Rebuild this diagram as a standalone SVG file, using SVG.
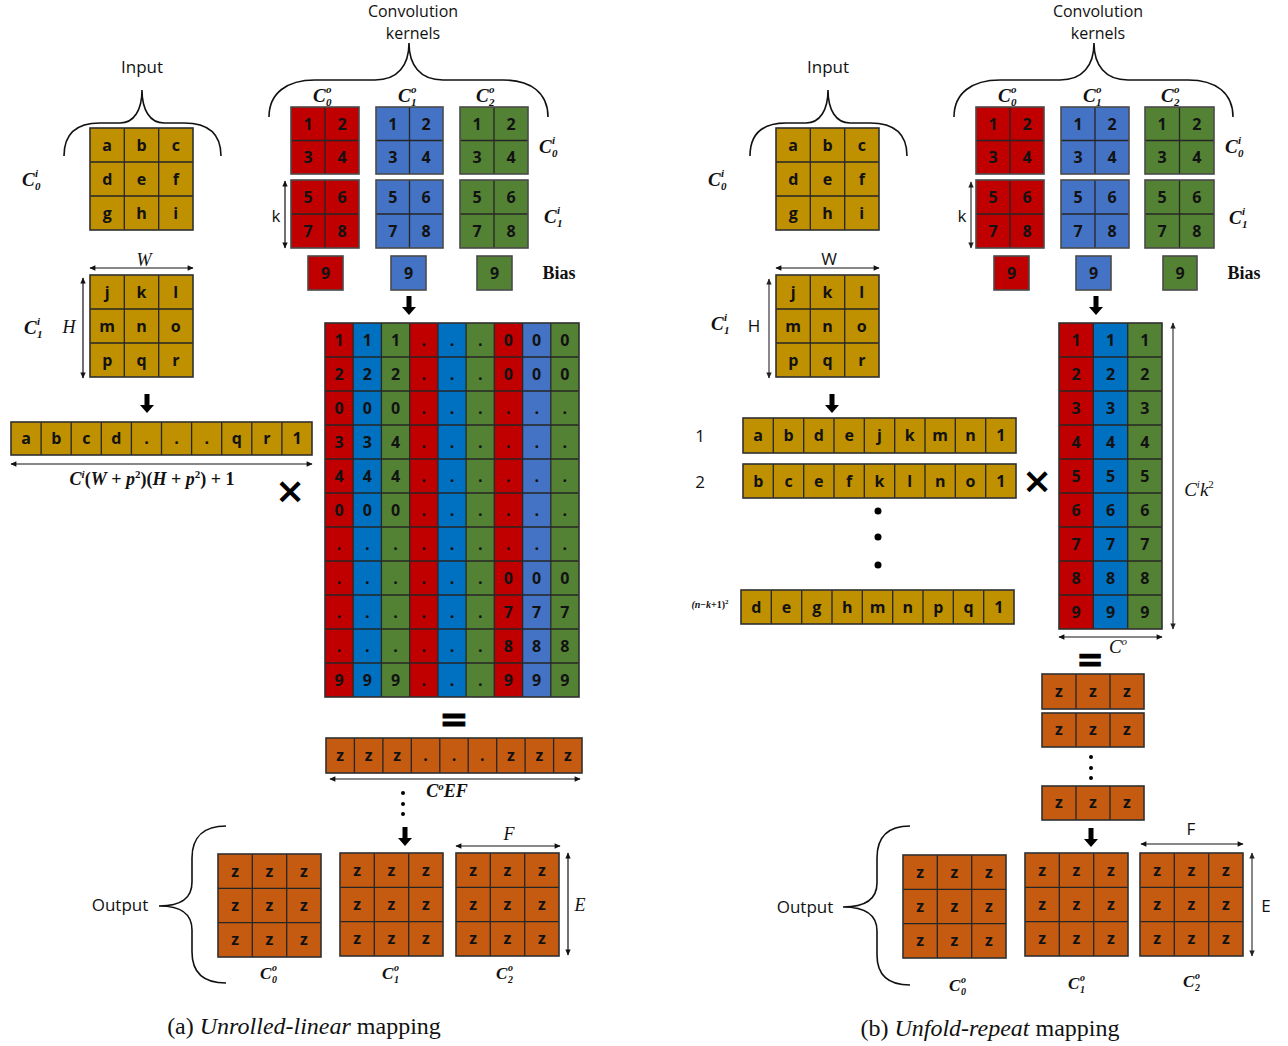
<svg xmlns="http://www.w3.org/2000/svg" width="1288" height="1046" viewBox="0 0 1288 1046">
<defs>
<style>
.gold{fill:#BF9000}
.red{fill:#C00000}
.blu{fill:#4472C4}
.blu2{fill:#0070C0}
.grn{fill:#548235}
.org{fill:#C55A11}
.gl{fill:none;stroke:#262626;stroke-width:1.3}
.ob{fill:none;stroke:#303030;stroke-width:1.6}
.kb{fill:none;stroke:#4a4a4a;stroke-width:1.6}
.ct{font-family:"Open Sans","DejaVu Sans",sans-serif;font-weight:700;font-size:16px;text-anchor:middle;fill:#121212}
.lb{font-family:"Open Sans","DejaVu Sans",sans-serif;font-size:17px;text-anchor:middle;fill:#111}
.mc{font-family:"Liberation Serif","DejaVu Serif",serif;font-weight:700;font-style:italic;font-size:19px;fill:#111}
.mo{font-family:"Liberation Serif","DejaVu Serif",serif;font-weight:700;font-style:italic;font-size:17px;fill:#111}
.ms{font-size:11px}
.mss{font-size:10px}
.mf{font-family:"Liberation Serif","DejaVu Serif",serif;font-weight:700;font-style:italic;font-size:18px;fill:#111;white-space:pre}
.mr{font-family:"Liberation Serif","DejaVu Serif",serif;font-style:italic;font-size:19px;fill:#111}
.n{font-style:normal}
.sp{font-size:11px}
.mi{font-family:"Liberation Serif","DejaVu Serif",serif;font-style:italic;font-size:18px;text-anchor:middle;fill:#111}
.bias{font-family:"Liberation Serif","DejaVu Serif",serif;font-weight:700;font-size:18px;text-anchor:middle;fill:#111}
.cap{font-family:"Liberation Serif","Times New Roman",serif;font-size:24px;text-anchor:middle;fill:#111}
.brace{fill:none;stroke:#111;stroke-width:1.6}
.dim{stroke:#111;stroke-width:1.2;fill:none;marker-start:url(#ah);marker-end:url(#ah)}
.dimg{stroke:#555;stroke-width:1.4;fill:none;marker-start:url(#ahg);marker-end:url(#ahg)}
.op{font-family:"DejaVu Sans",sans-serif;font-weight:700;text-anchor:middle;fill:#000}
.dot{fill:#000}
</style>
<marker id="ah" viewBox="0 0 10 10" refX="9" refY="5" markerWidth="7" markerHeight="6" orient="auto-start-reverse" markerUnits="userSpaceOnUse"><path d="M0,0.5 L10,5 L0,9.5 z" fill="#111"/></marker>
<marker id="ahg" viewBox="0 0 10 10" refX="9" refY="5" markerWidth="7" markerHeight="6" orient="auto-start-reverse" markerUnits="userSpaceOnUse"><path d="M0,0.5 L10,5 L0,9.5 z" fill="#222"/></marker>
<path id="dn" d="M-2.5,0 H2.5 V11 H7 L0,19 L-7,11 H-2.5 Z" fill="#000"/>
</defs>
<rect width="1288" height="1046" fill="#fff"/>

<!-- ================= LEFT PANEL (a) ================= -->
<g id="a-input-label">
<text class="lb" x="142" y="73">Input</text>
<path class="brace" d="M64,156 C64,132 78,123 100,123 L120,123 C134,123 142,110 142,90 C142,110 150,123 164,123 L184,123 C206,123 221,132 221,156"/>
</g>
<g id="a-input-c0">
<rect class="gold" x="90" y="128" width="103" height="102"/>
<path class="gl" d="M124.3,128V230M158.7,128V230M90,162H193M90,196H193"/>
<rect class="ob" x="90" y="128" width="103" height="102"/>
<text class="ct" x="107.2" y="150.5">a</text><text class="ct" x="141.5" y="150.5">b</text><text class="ct" x="175.8" y="150.5">c</text>
<text class="ct" x="107.2" y="184.5">d</text><text class="ct" x="141.5" y="184.5">e</text><text class="ct" x="175.8" y="184.5">f</text>
<text class="ct" x="107.2" y="218.5">g</text><text class="ct" x="141.5" y="218.5">h</text><text class="ct" x="175.8" y="218.5">i</text>
<text class="mc"><tspan x="22" y="186">C</tspan><tspan class="ms" x="35" y="177">i</tspan><tspan class="ms" x="35" y="190">0</tspan></text>
</g>
<g id="a-input-c1">
<rect class="gold" x="90" y="275" width="103" height="102"/>
<path class="gl" d="M124.3,275V377M158.7,275V377M90,309H193M90,343H193"/>
<rect class="ob" x="90" y="275" width="103" height="102"/>
<text class="ct" x="107.2" y="297.5">j</text><text class="ct" x="141.5" y="297.5">k</text><text class="ct" x="175.8" y="297.5">l</text>
<text class="ct" x="107.2" y="331.5">m</text><text class="ct" x="141.5" y="331.5">n</text><text class="ct" x="175.8" y="331.5">o</text>
<text class="ct" x="107.2" y="365.5">p</text><text class="ct" x="141.5" y="365.5">q</text><text class="ct" x="175.8" y="365.5">r</text>
<text class="mc"><tspan x="24" y="334">C</tspan><tspan class="ms" x="37" y="325">i</tspan><tspan class="ms" x="37" y="338">1</tspan></text>
<text class="mi" x="144" y="266">W</text>
<text class="mi" x="69" y="333">H</text>
</g>
<g id="a-input-row">
<rect class="gold" x="11" y="422" width="301" height="33"/>
<path class="gl" d="M41.1,422V455M71.2,422V455M101.3,422V455M131.4,422V455M161.5,422V455M191.6,422V455M221.7,422V455M251.8,422V455M281.9,422V455"/>
<rect class="ob" x="11" y="422" width="301" height="33"/>
<text class="ct" x="26" y="444">a</text><text class="ct" x="56.2" y="444">b</text><text class="ct" x="86.3" y="444">c</text><text class="ct" x="116.4" y="444">d</text><text class="ct" x="146.5" y="444">.</text><text class="ct" x="176.6" y="444">.</text><text class="ct" x="206.7" y="444">.</text><text class="ct" x="236.8" y="444">q</text><text class="ct" x="266.9" y="444">r</text><text class="ct" x="297" y="444">1</text>
<text class="mf" x="152" y="485" text-anchor="middle">C<tspan class="sp" dy="-7">i</tspan><tspan class="n" dy="7">(</tspan>W<tspan class="n"> + </tspan>p<tspan class="sp n" dy="-7">2</tspan><tspan class="n" dy="7">)(</tspan>H<tspan class="n"> + </tspan>p<tspan class="sp n" dy="-7">2</tspan><tspan class="n" dy="7">) + 1</tspan></text>
</g>
<g id="a-kernels-label">
<text class="lb" x="413" y="17" style="font-size:16px">Convolution</text>
<text class="lb" x="413" y="39" style="font-size:16px">kernels</text>
<path class="brace" d="M269,117 C269,93 287,80 315,80 L375,80 C398,80 409,65 409,43 C409,65 420,80 443,80 L503,80 C531,80 548,93 548,117"/>
<text class="mc"><tspan x="313" y="102">C</tspan><tspan class="ms" x="326" y="93">o</tspan><tspan class="ms" x="326" y="106">0</tspan></text>
<text class="mc"><tspan x="398" y="102">C</tspan><tspan class="ms" x="411" y="93">o</tspan><tspan class="ms" x="411" y="106">1</tspan></text>
<text class="mc"><tspan x="476" y="102">C</tspan><tspan class="ms" x="489" y="93">o</tspan><tspan class="ms" x="489" y="106">2</tspan></text>
<text class="mc"><tspan x="539" y="153">C</tspan><tspan class="ms" x="552" y="144">i</tspan><tspan class="ms" x="552" y="157">0</tspan></text>
<text class="mc"><tspan x="544" y="223">C</tspan><tspan class="ms" x="557" y="214">i</tspan><tspan class="ms" x="557" y="227">1</tspan></text>
<text class="bias" x="559" y="279">Bias</text>
<text class="lb" x="276" y="222">k</text>
</g>
<g id="a-kernel-c0">
<rect class="red" x="291" y="107" width="68" height="67"/><path class="gl" d="M325,107V174M291,140.5H359"/><rect class="kb" x="291" y="107" width="68" height="67"/>
<text class="ct" x="308" y="129.8">1</text><text class="ct" x="342" y="129.8">2</text><text class="ct" x="308" y="163.3">3</text><text class="ct" x="342" y="163.3">4</text>
<rect class="red" x="291" y="180" width="68" height="68"/><path class="gl" d="M325,180V248M291,214H359"/><rect class="kb" x="291" y="180" width="68" height="68"/>
<text class="ct" x="308" y="203">5</text><text class="ct" x="342" y="203">6</text><text class="ct" x="308" y="237">7</text><text class="ct" x="342" y="237">8</text>
<rect class="red" x="308" y="256" width="35" height="34"/><rect class="kb" x="308" y="256" width="35" height="34"/><text class="ct" x="325.5" y="279">9</text>
</g>
<g id="a-kernel-c1">
<rect class="blu" x="376" y="107" width="67" height="67"/><path class="gl" d="M409.5,107V174M376,140.5H443"/><rect class="kb" x="376" y="107" width="67" height="67"/>
<text class="ct" x="392.8" y="129.8">1</text><text class="ct" x="426.2" y="129.8">2</text><text class="ct" x="392.8" y="163.3">3</text><text class="ct" x="426.2" y="163.3">4</text>
<rect class="blu" x="376" y="180" width="67" height="68"/><path class="gl" d="M409.5,180V248M376,214H443"/><rect class="kb" x="376" y="180" width="67" height="68"/>
<text class="ct" x="392.8" y="203">5</text><text class="ct" x="426.2" y="203">6</text><text class="ct" x="392.8" y="237">7</text><text class="ct" x="426.2" y="237">8</text>
<rect class="blu" x="391" y="256" width="35" height="34"/><rect class="kb" x="391" y="256" width="35" height="34"/><text class="ct" x="408.5" y="279">9</text>
</g>
<g id="a-kernel-c2">
<rect class="grn" x="460" y="107" width="68" height="67"/><path class="gl" d="M494,107V174M460,140.5H528"/><rect class="kb" x="460" y="107" width="68" height="67"/>
<text class="ct" x="477" y="129.8">1</text><text class="ct" x="511" y="129.8">2</text><text class="ct" x="477" y="163.3">3</text><text class="ct" x="511" y="163.3">4</text>
<rect class="grn" x="460" y="180" width="68" height="68"/><path class="gl" d="M494,180V248M460,214H528"/><rect class="kb" x="460" y="180" width="68" height="68"/>
<text class="ct" x="477" y="203">5</text><text class="ct" x="511" y="203">6</text><text class="ct" x="477" y="237">7</text><text class="ct" x="511" y="237">8</text>
<rect class="grn" x="477" y="256" width="35" height="34"/><rect class="kb" x="477" y="256" width="35" height="34"/><text class="ct" x="494.5" y="279">9</text>
</g>
<g id="a-weight-matrix">
<rect class="red" x="325" y="323" width="28.2" height="374"/>
<rect class="blu2" x="353.2" y="323" width="28.2" height="374"/>
<rect class="grn" x="381.4" y="323" width="28.3" height="374"/>
<rect class="red" x="409.7" y="323" width="28.2" height="374"/>
<rect class="blu2" x="437.9" y="323" width="28.2" height="374"/>
<rect class="grn" x="466.1" y="323" width="28.2" height="374"/>
<rect class="red" x="494.3" y="323" width="28.3" height="374"/>
<rect class="blu" x="522.6" y="323" width="28.2" height="374"/>
<rect class="grn" x="550.8" y="323" width="28.2" height="374"/>
<path class="gl" d="M353.2,323V697M381.4,323V697M409.7,323V697M437.9,323V697M466.1,323V697M494.3,323V697M522.6,323V697M550.8,323V697M325,357H579M325,391H579M325,425H579M325,459H579M325,493H579M325,527H579M325,561H579M325,595H579M325,629H579M325,663H579"/>
<rect class="ob" x="325" y="323" width="254" height="374"/>
<text class="ct" x="339.1" y="346">1</text><text class="ct" x="367.3" y="346">1</text><text class="ct" x="395.6" y="346">1</text><text class="ct" x="423.8" y="346">.</text><text class="ct" x="452" y="346">.</text><text class="ct" x="480.2" y="346">.</text><text class="ct" x="508.4" y="346">0</text><text class="ct" x="536.7" y="346">0</text><text class="ct" x="564.9" y="346">0</text>
<text class="ct" x="339.1" y="380">2</text><text class="ct" x="367.3" y="380">2</text><text class="ct" x="395.6" y="380">2</text><text class="ct" x="423.8" y="380">.</text><text class="ct" x="452" y="380">.</text><text class="ct" x="480.2" y="380">.</text><text class="ct" x="508.4" y="380">0</text><text class="ct" x="536.7" y="380">0</text><text class="ct" x="564.9" y="380">0</text>
<text class="ct" x="339.1" y="414">0</text><text class="ct" x="367.3" y="414">0</text><text class="ct" x="395.6" y="414">0</text><text class="ct" x="423.8" y="414">.</text><text class="ct" x="452" y="414">.</text><text class="ct" x="480.2" y="414">.</text><text class="ct" x="508.4" y="414">.</text><text class="ct" x="536.7" y="414">.</text><text class="ct" x="564.9" y="414">.</text>
<text class="ct" x="339.1" y="448">3</text><text class="ct" x="367.3" y="448">3</text><text class="ct" x="395.6" y="448">4</text><text class="ct" x="423.8" y="448">.</text><text class="ct" x="452" y="448">.</text><text class="ct" x="480.2" y="448">.</text><text class="ct" x="508.4" y="448">.</text><text class="ct" x="536.7" y="448">.</text><text class="ct" x="564.9" y="448">.</text>
<text class="ct" x="339.1" y="482">4</text><text class="ct" x="367.3" y="482">4</text><text class="ct" x="395.6" y="482">4</text><text class="ct" x="423.8" y="482">.</text><text class="ct" x="452" y="482">.</text><text class="ct" x="480.2" y="482">.</text><text class="ct" x="508.4" y="482">.</text><text class="ct" x="536.7" y="482">.</text><text class="ct" x="564.9" y="482">.</text>
<text class="ct" x="339.1" y="516">0</text><text class="ct" x="367.3" y="516">0</text><text class="ct" x="395.6" y="516">0</text><text class="ct" x="423.8" y="516">.</text><text class="ct" x="452" y="516">.</text><text class="ct" x="480.2" y="516">.</text><text class="ct" x="508.4" y="516">.</text><text class="ct" x="536.7" y="516">.</text><text class="ct" x="564.9" y="516">.</text>
<text class="ct" x="339.1" y="550">.</text><text class="ct" x="367.3" y="550">.</text><text class="ct" x="395.6" y="550">.</text><text class="ct" x="423.8" y="550">.</text><text class="ct" x="452" y="550">.</text><text class="ct" x="480.2" y="550">.</text><text class="ct" x="508.4" y="550">.</text><text class="ct" x="536.7" y="550">.</text><text class="ct" x="564.9" y="550">.</text>
<text class="ct" x="339.1" y="584">.</text><text class="ct" x="367.3" y="584">.</text><text class="ct" x="395.6" y="584">.</text><text class="ct" x="423.8" y="584">.</text><text class="ct" x="452" y="584">.</text><text class="ct" x="480.2" y="584">.</text><text class="ct" x="508.4" y="584">0</text><text class="ct" x="536.7" y="584">0</text><text class="ct" x="564.9" y="584">0</text>
<text class="ct" x="339.1" y="618">.</text><text class="ct" x="367.3" y="618">.</text><text class="ct" x="395.6" y="618">.</text><text class="ct" x="423.8" y="618">.</text><text class="ct" x="452" y="618">.</text><text class="ct" x="480.2" y="618">.</text><text class="ct" x="508.4" y="618">7</text><text class="ct" x="536.7" y="618">7</text><text class="ct" x="564.9" y="618">7</text>
<text class="ct" x="339.1" y="652">.</text><text class="ct" x="367.3" y="652">.</text><text class="ct" x="395.6" y="652">.</text><text class="ct" x="423.8" y="652">.</text><text class="ct" x="452" y="652">.</text><text class="ct" x="480.2" y="652">.</text><text class="ct" x="508.4" y="652">8</text><text class="ct" x="536.7" y="652">8</text><text class="ct" x="564.9" y="652">8</text>
<text class="ct" x="339.1" y="686">9</text><text class="ct" x="367.3" y="686">9</text><text class="ct" x="395.6" y="686">9</text><text class="ct" x="423.8" y="686">.</text><text class="ct" x="452" y="686">.</text><text class="ct" x="480.2" y="686">.</text><text class="ct" x="508.4" y="686">9</text><text class="ct" x="536.7" y="686">9</text><text class="ct" x="564.9" y="686">9</text>
</g>
<g id="a-result-row">
<rect class="org" x="326" y="738" width="256" height="35"/>
<path class="gl" d="M354.4,738V773M382.9,738V773M411.3,738V773M439.8,738V773M468.2,738V773M496.7,738V773M525.1,738V773M553.6,738V773"/>
<rect class="ob" x="326" y="738" width="256" height="35"/>
<text class="ct" x="340.2" y="760.5">z</text><text class="ct" x="368.7" y="760.5">z</text><text class="ct" x="397.1" y="760.5">z</text><text class="ct" x="425.6" y="760.5">.</text><text class="ct" x="454" y="760.5">.</text><text class="ct" x="482.4" y="760.5">.</text><text class="ct" x="510.9" y="760.5">z</text><text class="ct" x="539.3" y="760.5">z</text><text class="ct" x="567.8" y="760.5">z</text>
<text class="mf" x="447" y="797" text-anchor="middle">C<tspan class="sp" dy="-7">o</tspan><tspan dy="7">EF</tspan></text>
<circle class="dot" cx="403" cy="793" r="2"/><circle class="dot" cx="403" cy="804" r="2"/><circle class="dot" cx="403" cy="814" r="2"/>
</g>
<g id="a-output-label">
<text class="lb" x="120" y="911">Output</text>
<path class="brace" d="M226,826 C205,826 192,836 192,858 L192,882 C192,898 182,906 159,906 C182,906 192,914 192,930 L192,952 C192,974 205,983 226,983"/>
</g>
<g id="a-output-c0">
<rect class="org" x="218" y="854" width="103" height="103"/>
<path class="gl" d="M252.3,854V957M286.7,854V957M218,888.3H321M218,922.7H321"/>
<rect class="ob" x="218" y="854" width="103" height="103"/>
<text class="ct" x="235.2" y="876.5">z</text><text class="ct" x="269.5" y="876.5">z</text><text class="ct" x="303.8" y="876.5">z</text>
<text class="ct" x="235.2" y="910.8">z</text><text class="ct" x="269.5" y="910.8">z</text><text class="ct" x="303.8" y="910.8">z</text>
<text class="ct" x="235.2" y="945.2">z</text><text class="ct" x="269.5" y="945.2">z</text><text class="ct" x="303.8" y="945.2">z</text>
<text class="mo"><tspan x="260" y="979">C</tspan><tspan class="mss" x="272" y="971">o</tspan><tspan class="mss" x="272" y="983">0</tspan></text>
</g>
<g id="a-output-c1">
<rect class="org" x="340" y="853" width="103" height="103"/>
<path class="gl" d="M374.3,853V956M408.7,853V956M340,887.3H443M340,921.7H443"/>
<rect class="ob" x="340" y="853" width="103" height="103"/>
<text class="ct" x="357.2" y="875.5">z</text><text class="ct" x="391.5" y="875.5">z</text><text class="ct" x="425.8" y="875.5">z</text>
<text class="ct" x="357.2" y="909.8">z</text><text class="ct" x="391.5" y="909.8">z</text><text class="ct" x="425.8" y="909.8">z</text>
<text class="ct" x="357.2" y="944.2">z</text><text class="ct" x="391.5" y="944.2">z</text><text class="ct" x="425.8" y="944.2">z</text>
<text class="mo"><tspan x="382" y="979">C</tspan><tspan class="mss" x="394" y="971">o</tspan><tspan class="mss" x="394" y="983">1</tspan></text>
</g>
<g id="a-output-c2">
<rect class="org" x="456" y="853" width="103" height="103"/>
<path class="gl" d="M490.3,853V956M524.7,853V956M456,887.3H559M456,921.7H559"/>
<rect class="ob" x="456" y="853" width="103" height="103"/>
<text class="ct" x="473.2" y="875.5">z</text><text class="ct" x="507.5" y="875.5">z</text><text class="ct" x="541.8" y="875.5">z</text>
<text class="ct" x="473.2" y="909.8">z</text><text class="ct" x="507.5" y="909.8">z</text><text class="ct" x="541.8" y="909.8">z</text>
<text class="ct" x="473.2" y="944.2">z</text><text class="ct" x="507.5" y="944.2">z</text><text class="ct" x="541.8" y="944.2">z</text>
<text class="mo"><tspan x="496" y="979">C</tspan><tspan class="mss" x="508" y="971">o</tspan><tspan class="mss" x="508" y="983">2</tspan></text>
<text class="mi" x="509" y="840">F</text>
<text class="mi" x="580" y="911">E</text>
</g>
<g id="a-operators">
<text class="op" x="290" y="503" font-size="36">×</text>
<text class="op" x="454" y="731" font-size="35" stroke="#000" stroke-width="0.8">=</text>
</g>
<text class="cap" x="304" y="1034">(a) <tspan font-style="italic">Unrolled-linear</tspan> mapping</text>

<!-- ================= RIGHT PANEL (b) ================= -->
<g id="b-input-label">
<text class="lb" x="828" y="73">Input</text>
<path class="brace" d="M750,156 C750,132 764,123 786,123 L806,123 C820,123 828,110 828,90 C828,110 836,123 850,123 L870,123 C892,123 907,132 907,156"/>
</g>
<g id="b-input-c0">
<rect class="gold" x="776" y="128" width="103" height="102"/>
<path class="gl" d="M810.3,128V230M844.7,128V230M776,162H879M776,196H879"/>
<rect class="ob" x="776" y="128" width="103" height="102"/>
<text class="ct" x="793.2" y="150.5">a</text><text class="ct" x="827.5" y="150.5">b</text><text class="ct" x="861.8" y="150.5">c</text>
<text class="ct" x="793.2" y="184.5">d</text><text class="ct" x="827.5" y="184.5">e</text><text class="ct" x="861.8" y="184.5">f</text>
<text class="ct" x="793.2" y="218.5">g</text><text class="ct" x="827.5" y="218.5">h</text><text class="ct" x="861.8" y="218.5">i</text>
<text class="mc"><tspan x="708" y="186">C</tspan><tspan class="ms" x="721" y="177">i</tspan><tspan class="ms" x="721" y="190">0</tspan></text>
</g>
<g id="b-input-c1">
<rect class="gold" x="776" y="275" width="103" height="102"/>
<path class="gl" d="M810.3,275V377M844.7,275V377M776,309H879M776,343H879"/>
<rect class="ob" x="776" y="275" width="103" height="102"/>
<text class="ct" x="793.2" y="297.5">j</text><text class="ct" x="827.5" y="297.5">k</text><text class="ct" x="861.8" y="297.5">l</text>
<text class="ct" x="793.2" y="331.5">m</text><text class="ct" x="827.5" y="331.5">n</text><text class="ct" x="861.8" y="331.5">o</text>
<text class="ct" x="793.2" y="365.5">p</text><text class="ct" x="827.5" y="365.5">q</text><text class="ct" x="861.8" y="365.5">r</text>
<text class="mc"><tspan x="711" y="330">C</tspan><tspan class="ms" x="724" y="321">i</tspan><tspan class="ms" x="724" y="334">1</tspan></text>
<text class="lb" x="829" y="265">W</text>
<text class="lb" x="754" y="332">H</text>
</g>
<g id="b-patch-row-1">
<text class="lb" x="700" y="442">1</text>
<rect class="gold" x="743" y="418" width="273" height="35"/>
<path class="gl" d="M773.3,418V453M803.7,418V453M834,418V453M864.3,418V453M894.7,418V453M925,418V453M955.3,418V453M985.7,418V453"/>
<rect class="ob" x="743" y="418" width="273" height="35"/>
<text class="ct" x="758.2" y="441">a</text><text class="ct" x="788.5" y="441">b</text><text class="ct" x="818.8" y="441">d</text><text class="ct" x="849.2" y="441">e</text><text class="ct" x="879.5" y="441">j</text><text class="ct" x="909.8" y="441">k</text><text class="ct" x="940.2" y="441">m</text><text class="ct" x="970.5" y="441">n</text><text class="ct" x="1000.8" y="441">1</text>
</g>
<g id="b-patch-row-2">
<text class="lb" x="700" y="488">2</text>
<rect class="gold" x="743" y="464" width="273" height="34"/>
<path class="gl" d="M773.3,464V498M803.7,464V498M834,464V498M864.3,464V498M894.7,464V498M925,464V498M955.3,464V498M985.7,464V498"/>
<rect class="ob" x="743" y="464" width="273" height="34"/>
<text class="ct" x="758.2" y="486.5">b</text><text class="ct" x="788.5" y="486.5">c</text><text class="ct" x="818.8" y="486.5">e</text><text class="ct" x="849.2" y="486.5">f</text><text class="ct" x="879.5" y="486.5">k</text><text class="ct" x="909.8" y="486.5">l</text><text class="ct" x="940.2" y="486.5">n</text><text class="ct" x="970.5" y="486.5">o</text><text class="ct" x="1000.8" y="486.5">1</text>
<circle class="dot" cx="878" cy="511" r="3.5"/><circle class="dot" cx="878" cy="537" r="3.5"/><circle class="dot" cx="878" cy="565" r="3.5"/>
</g>
<g id="b-patch-row-last">
<text class="mf" x="710" y="608" text-anchor="middle" style="font-size:10px">(<tspan>n</tspan><tspan class="n">−</tspan>k<tspan class="n">+1)</tspan><tspan class="n" dy="-4" style="font-size:7px">2</tspan></text>
<rect class="gold" x="741" y="590" width="273" height="34"/>
<path class="gl" d="M771.3,590V624M801.7,590V624M832,590V624M862.3,590V624M892.7,590V624M923,590V624M953.3,590V624M983.7,590V624"/>
<rect class="ob" x="741" y="590" width="273" height="34"/>
<text class="ct" x="756.2" y="612.5">d</text><text class="ct" x="786.5" y="612.5">e</text><text class="ct" x="816.8" y="612.5">g</text><text class="ct" x="847.2" y="612.5">h</text><text class="ct" x="877.5" y="612.5">m</text><text class="ct" x="907.8" y="612.5">n</text><text class="ct" x="938.2" y="612.5">p</text><text class="ct" x="968.5" y="612.5">q</text><text class="ct" x="998.8" y="612.5">1</text>
</g>
<g id="b-kernels-label">
<text class="lb" x="1098" y="17" style="font-size:16px">Convolution</text>
<text class="lb" x="1098" y="39" style="font-size:16px">kernels</text>
<path class="brace" d="M954,117 C954,93 972,80 1000,80 L1060,80 C1083,80 1094,65 1094,43 C1094,65 1105,80 1128,80 L1188,80 C1216,80 1233,93 1233,117"/>
<text class="mc"><tspan x="998" y="102">C</tspan><tspan class="ms" x="1011" y="93">o</tspan><tspan class="ms" x="1011" y="106">0</tspan></text>
<text class="mc"><tspan x="1083" y="102">C</tspan><tspan class="ms" x="1096" y="93">o</tspan><tspan class="ms" x="1096" y="106">1</tspan></text>
<text class="mc"><tspan x="1161" y="102">C</tspan><tspan class="ms" x="1174" y="93">o</tspan><tspan class="ms" x="1174" y="106">2</tspan></text>
<text class="mc"><tspan x="1225" y="153">C</tspan><tspan class="ms" x="1238" y="144">i</tspan><tspan class="ms" x="1238" y="157">0</tspan></text>
<text class="mc"><tspan x="1229" y="224">C</tspan><tspan class="ms" x="1242" y="215">i</tspan><tspan class="ms" x="1242" y="228">1</tspan></text>
<text class="bias" x="1244" y="279">Bias</text>
<text class="lb" x="962" y="222">k</text>
</g>
<g id="b-kernel-c0">
<rect class="red" x="976" y="107" width="68" height="67"/><path class="gl" d="M1010,107V174M976,140.5H1044"/><rect class="kb" x="976" y="107" width="68" height="67"/>
<text class="ct" x="993" y="129.8">1</text><text class="ct" x="1027" y="129.8">2</text><text class="ct" x="993" y="163.3">3</text><text class="ct" x="1027" y="163.3">4</text>
<rect class="red" x="976" y="180" width="68" height="68"/><path class="gl" d="M1010,180V248M976,214H1044"/><rect class="kb" x="976" y="180" width="68" height="68"/>
<text class="ct" x="993" y="203">5</text><text class="ct" x="1027" y="203">6</text><text class="ct" x="993" y="237">7</text><text class="ct" x="1027" y="237">8</text>
<rect class="red" x="994" y="256" width="35" height="34"/><rect class="kb" x="994" y="256" width="35" height="34"/><text class="ct" x="1011.5" y="279">9</text>
</g>
<g id="b-kernel-c1">
<rect class="blu" x="1061" y="107" width="68" height="67"/><path class="gl" d="M1095,107V174M1061,140.5H1129"/><rect class="kb" x="1061" y="107" width="68" height="67"/>
<text class="ct" x="1078" y="129.8">1</text><text class="ct" x="1112" y="129.8">2</text><text class="ct" x="1078" y="163.3">3</text><text class="ct" x="1112" y="163.3">4</text>
<rect class="blu" x="1061" y="180" width="68" height="68"/><path class="gl" d="M1095,180V248M1061,214H1129"/><rect class="kb" x="1061" y="180" width="68" height="68"/>
<text class="ct" x="1078" y="203">5</text><text class="ct" x="1112" y="203">6</text><text class="ct" x="1078" y="237">7</text><text class="ct" x="1112" y="237">8</text>
<rect class="blu" x="1076" y="256" width="35" height="34"/><rect class="kb" x="1076" y="256" width="35" height="34"/><text class="ct" x="1093.5" y="279">9</text>
</g>
<g id="b-kernel-c2">
<rect class="grn" x="1145" y="107" width="69" height="67"/><path class="gl" d="M1179.5,107V174M1145,140.5H1214"/><rect class="kb" x="1145" y="107" width="69" height="67"/>
<text class="ct" x="1162.2" y="129.8">1</text><text class="ct" x="1196.8" y="129.8">2</text><text class="ct" x="1162.2" y="163.3">3</text><text class="ct" x="1196.8" y="163.3">4</text>
<rect class="grn" x="1145" y="180" width="69" height="68"/><path class="gl" d="M1179.5,180V248M1145,214H1214"/><rect class="kb" x="1145" y="180" width="69" height="68"/>
<text class="ct" x="1162.2" y="203">5</text><text class="ct" x="1196.8" y="203">6</text><text class="ct" x="1162.2" y="237">7</text><text class="ct" x="1196.8" y="237">8</text>
<rect class="grn" x="1163" y="256" width="34" height="34"/><rect class="kb" x="1163" y="256" width="34" height="34"/><text class="ct" x="1180" y="279">9</text>
</g>
<g id="b-weight-matrix">
<rect class="red" x="1059" y="323" width="34.3" height="306"/>
<rect class="blu2" x="1093.3" y="323" width="34.4" height="306"/>
<rect class="grn" x="1127.7" y="323" width="34.3" height="306"/>
<path class="gl" d="M1093.3,323V629M1127.7,323V629M1059,357H1162M1059,391H1162M1059,425H1162M1059,459H1162M1059,493H1162M1059,527H1162M1059,561H1162M1059,595H1162"/>
<rect class="ob" x="1059" y="323" width="103" height="306"/>
<text class="ct" x="1076.2" y="346">1</text><text class="ct" x="1110.5" y="346">1</text><text class="ct" x="1144.8" y="346">1</text>
<text class="ct" x="1076.2" y="380">2</text><text class="ct" x="1110.5" y="380">2</text><text class="ct" x="1144.8" y="380">2</text>
<text class="ct" x="1076.2" y="414">3</text><text class="ct" x="1110.5" y="414">3</text><text class="ct" x="1144.8" y="414">3</text>
<text class="ct" x="1076.2" y="448">4</text><text class="ct" x="1110.5" y="448">4</text><text class="ct" x="1144.8" y="448">4</text>
<text class="ct" x="1076.2" y="482">5</text><text class="ct" x="1110.5" y="482">5</text><text class="ct" x="1144.8" y="482">5</text>
<text class="ct" x="1076.2" y="516">6</text><text class="ct" x="1110.5" y="516">6</text><text class="ct" x="1144.8" y="516">6</text>
<text class="ct" x="1076.2" y="550">7</text><text class="ct" x="1110.5" y="550">7</text><text class="ct" x="1144.8" y="550">7</text>
<text class="ct" x="1076.2" y="584">8</text><text class="ct" x="1110.5" y="584">8</text><text class="ct" x="1144.8" y="584">8</text>
<text class="ct" x="1076.2" y="618">9</text><text class="ct" x="1110.5" y="618">9</text><text class="ct" x="1144.8" y="618">9</text>
<text class="mr" x="1199" y="496" text-anchor="middle">C<tspan class="sp" dy="-8">i</tspan><tspan dy="8">k</tspan><tspan class="sp n" dy="-8">2</tspan></text>
<text class="mr" x="1118" y="653" text-anchor="middle">C<tspan class="sp" dy="-8">o</tspan></text>
</g>
<g id="b-result-rows">
<rect class="org" x="1042" y="674" width="102" height="35"/><path class="gl" d="M1076,674V709M1110,674V709"/><rect class="ob" x="1042" y="674" width="102" height="35"/>
<text class="ct" x="1059" y="697">z</text><text class="ct" x="1093" y="697">z</text><text class="ct" x="1127" y="697">z</text>
<rect class="org" x="1042" y="713" width="102" height="34"/><path class="gl" d="M1076,713V747M1110,713V747"/><rect class="ob" x="1042" y="713" width="102" height="34"/>
<text class="ct" x="1059" y="735">z</text><text class="ct" x="1093" y="735">z</text><text class="ct" x="1127" y="735">z</text>
<circle class="dot" cx="1091" cy="757" r="2"/><circle class="dot" cx="1091" cy="768" r="2"/><circle class="dot" cx="1091" cy="778" r="2"/>
<rect class="org" x="1042" y="786" width="102" height="34"/><path class="gl" d="M1076,786V820M1110,786V820"/><rect class="ob" x="1042" y="786" width="102" height="34"/>
<text class="ct" x="1059" y="808">z</text><text class="ct" x="1093" y="808">z</text><text class="ct" x="1127" y="808">z</text>
</g>
<g id="b-output-label">
<text class="lb" x="805" y="913">Output</text>
<path class="brace" d="M910,826 C889,826 877,836 877,858 L877,883 C877,899 866,907 843,907 C866,907 877,915 877,931 L877,955 C877,976 889,985 910,985"/>
</g>
<g id="b-output-c0">
<rect class="org" x="903" y="855" width="103" height="103"/>
<path class="gl" d="M937.3,855V958M971.7,855V958M903,889.3H1006M903,923.7H1006"/>
<rect class="ob" x="903" y="855" width="103" height="103"/>
<text class="ct" x="920.2" y="877.5">z</text><text class="ct" x="954.5" y="877.5">z</text><text class="ct" x="988.8" y="877.5">z</text>
<text class="ct" x="920.2" y="911.8">z</text><text class="ct" x="954.5" y="911.8">z</text><text class="ct" x="988.8" y="911.8">z</text>
<text class="ct" x="920.2" y="946.2">z</text><text class="ct" x="954.5" y="946.2">z</text><text class="ct" x="988.8" y="946.2">z</text>
<text class="mo"><tspan x="949" y="991">C</tspan><tspan class="mss" x="961" y="983">o</tspan><tspan class="mss" x="961" y="995">0</tspan></text>
</g>
<g id="b-output-c1">
<rect class="org" x="1025" y="853" width="103" height="103"/>
<path class="gl" d="M1059.3,853V956M1093.7,853V956M1025,887.3H1128M1025,921.7H1128"/>
<rect class="ob" x="1025" y="853" width="103" height="103"/>
<text class="ct" x="1042.2" y="875.5">z</text><text class="ct" x="1076.5" y="875.5">z</text><text class="ct" x="1110.8" y="875.5">z</text>
<text class="ct" x="1042.2" y="909.8">z</text><text class="ct" x="1076.5" y="909.8">z</text><text class="ct" x="1110.8" y="909.8">z</text>
<text class="ct" x="1042.2" y="944.2">z</text><text class="ct" x="1076.5" y="944.2">z</text><text class="ct" x="1110.8" y="944.2">z</text>
<text class="mo"><tspan x="1068" y="989">C</tspan><tspan class="mss" x="1080" y="981">o</tspan><tspan class="mss" x="1080" y="993">1</tspan></text>
</g>
<g id="b-output-c2">
<rect class="org" x="1140" y="853" width="103" height="103"/>
<path class="gl" d="M1174.3,853V956M1208.7,853V956M1140,887.3H1243M1140,921.7H1243"/>
<rect class="ob" x="1140" y="853" width="103" height="103"/>
<text class="ct" x="1157.2" y="875.5">z</text><text class="ct" x="1191.5" y="875.5">z</text><text class="ct" x="1225.8" y="875.5">z</text>
<text class="ct" x="1157.2" y="909.8">z</text><text class="ct" x="1191.5" y="909.8">z</text><text class="ct" x="1225.8" y="909.8">z</text>
<text class="ct" x="1157.2" y="944.2">z</text><text class="ct" x="1191.5" y="944.2">z</text><text class="ct" x="1225.8" y="944.2">z</text>
<text class="mo"><tspan x="1183" y="987">C</tspan><tspan class="mss" x="1195" y="979">o</tspan><tspan class="mss" x="1195" y="991">2</tspan></text>
<text class="lb" x="1191" y="835">F</text>
<text class="lb" x="1266" y="912">E</text>
</g>
<g id="b-operators">
<text class="op" x="1037" y="493" font-size="36">×</text>
<text class="op" x="1090" y="671" font-size="33" stroke="#000" stroke-width="0.8">=</text>
</g>
<text class="cap" x="990" y="1036">(b) <tspan font-style="italic">Unfold-repeat</tspan> mapping</text>

<!-- ================= CONNECTORS ================= -->
<g id="connectors">
<use href="#dn" x="147" y="394"/>
<use href="#dn" x="409" y="296"/>
<use href="#dn" x="405" y="827"/>
<use href="#dn" x="832" y="394"/>
<use href="#dn" x="1096" y="296"/>
<use href="#dn" x="1091" y="828"/>
<path class="dim" d="M90,268H193"/>
<path class="dim" d="M83,278V378"/>
<path class="dim" d="M285,181V248"/>
<path class="dim" d="M11,464H312"/>
<path class="dim" d="M330,779H580"/>
<path class="dim" d="M456,846H560"/>
<path class="dim" d="M568,853V955"/>
<path class="dim" d="M776,268H879"/>
<path class="dimg" d="M769,279V378"/>
<path class="dimg" d="M971,182V248"/>
<path class="dimg" d="M1173,323V629"/>
<path class="dim" d="M1059,637H1162"/>
<path class="dim" d="M1141,844H1243"/>
<path class="dimg" d="M1252,853V956"/>
</g>
</svg>
